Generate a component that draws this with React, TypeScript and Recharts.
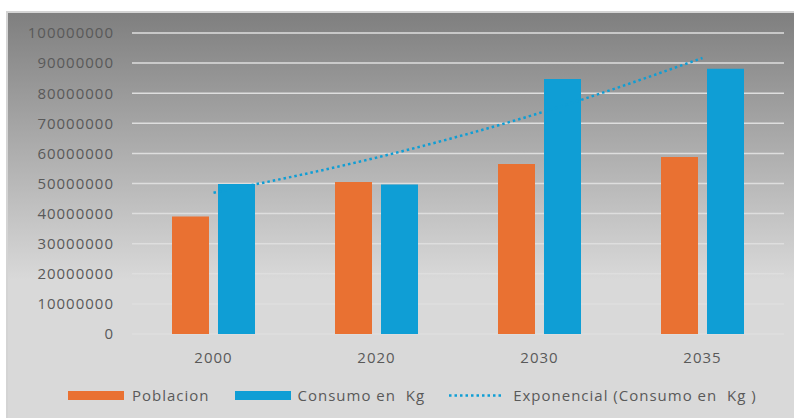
import {
  Bar,
  CartesianGrid,
  ComposedChart,
  Legend,
  Line,
  XAxis,
  YAxis,
} from "recharts";

const years = ["2000", "2020", "2030", "2035"];
const poblacion = [39000000, 50500000, 56500000, 58800000];
const consumo = [49800000, 49700000, 84700000, 88100000];
// exponential trend of consumo at each category
const tendencia = [46900000, 58600000, 73400000, 91700000];
const yTicks = [0, 10000000, 20000000, 30000000, 40000000, 50000000, 60000000, 70000000, 80000000, 90000000, 100000000];

const data = years.map((year, i) => ({
  year,
  poblacion: poblacion[i],
  consumo: consumo[i],
  tendencia: tendencia[i],
}));

const ORANGE = "#E97132";
const BLUE = "#0F9ED5";
const TEXT = "#595959";
const FONT = "'Open Sans', sans-serif";

const tickStyle = { fill: TEXT, fontSize: 15, fontFamily: FONT, letterSpacing: 1 };

function LegendContent() {
  const label = { color: TEXT, fontSize: 15, fontFamily: FONT, letterSpacing: 1, whiteSpace: "nowrap" as const };
  return (
    <div style={{ display: "flex", alignItems: "center", height: 36 }}>
      <div style={{ width: 56, height: 9, background: ORANGE, marginRight: 8 }} />
      <span style={{ ...label, marginRight: 25 }}>Poblacion</span>
      <div style={{ width: 56, height: 9, background: BLUE, marginRight: 7 }} />
      <span style={{ ...label, marginRight: 23 }}>Consumo en&nbsp; Kg</span>
      <svg width={56} height={9} style={{ marginRight: 9 }}>
        <line x1={1} y1={4.5} x2={55} y2={4.5} stroke={BLUE} strokeWidth={2.5} strokeDasharray="2.5 3" />
      </svg>
      <span style={label}>Exponencial (Consumo en&nbsp; Kg )</span>
    </div>
  );
}

export default function App() {
  return (
    <div
      style={{
        position: "absolute",
        left: 6,
        top: 11,
        width: 788,
        height: 407,
        boxSizing: "border-box",
        borderTop: "2px solid #d4d4d4",
        borderLeft: "2px solid #d4d4d4",
        background: "linear-gradient(to bottom, #7f7f7f 0%, #d9d9d9 66%, #d9d9d9 100%)",
      }}
    >
      <ComposedChart
        width={786}
        height={405}
        data={data}
        margin={{ top: 20, right: 10, left: 0, bottom: 18 }}
        barSize={37}
        barGap={9}
      >
        <CartesianGrid vertical={false} stroke="#dedede" strokeWidth={1.5} />
        <XAxis
          dataKey="year"
          axisLine={false}
          tickLine={false}
          tick={tickStyle}
          tickMargin={12}
          height={30}
        />
        <YAxis
          width={124}
          domain={[0, 100000000]}
          ticks={yTicks}
          interval={0}
          axisLine={false}
          tickLine={false}
          tick={tickStyle}
          tickMargin={12}
        />
        <Legend
          content={<LegendContent />}
          height={36}
          wrapperStyle={{ left: 60, bottom: 5, width: 720 }}
        />
        <Bar dataKey="poblacion" fill={ORANGE} isAnimationActive={false} />
        <Bar dataKey="consumo" fill={BLUE} isAnimationActive={false} />
        <Line
          type="monotone"
          dataKey="tendencia"
          stroke={BLUE}
          strokeWidth={2.5}
          strokeDasharray="2.5 3"
          dot={false}
          activeDot={false}
          isAnimationActive={false}
        />
      </ComposedChart>
    </div>
  );
}
